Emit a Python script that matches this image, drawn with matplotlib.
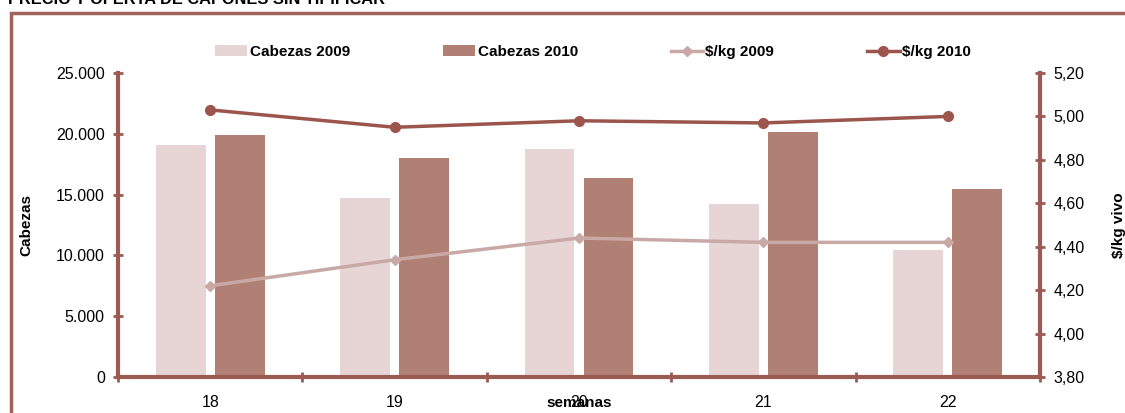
import matplotlib.pyplot as plt
import matplotlib.patches as mpatches
import numpy as np

plt.rcParams['font.family'] = ['Liberation Sans', 'DejaVu Sans']

semanas = ['18', '19', '20', '21', '22']
cabezas_2009 = [19100, 14700, 18750, 14200, 10450]
cabezas_2010 = [19900, 18050, 16400, 20150, 15450]
precio_2009 = [4.22, 4.34, 4.44, 4.42, 4.42]
precio_2010 = [5.03, 4.95, 4.98, 4.97, 5.00]

c_bar09 = '#E7D5D5'
c_bar10 = '#B08074'
c_line09 = '#C9A9A6'
c_line10 = '#9B554C'
c_axis = '#9B5B52'

fig = plt.figure(figsize=(11.25, 4.13), dpi=100)
ax = fig.add_axes([118 / 1125, 36 / 413, 922 / 1125, 304 / 413])
ax2 = ax.twinx()

x = np.arange(len(semanas))
ax.bar(x - 0.16, cabezas_2009, width=0.27, color=c_bar09, label='Cabezas 2009', zorder=2)
ax.bar(x + 0.16, cabezas_2010, width=0.27, color=c_bar10, label='Cabezas 2010', zorder=2)

ax2.plot(x, precio_2009, color=c_line09, lw=2.5, marker='D', ms=5, label='$/kg 2009')
ax2.plot(x, precio_2010, color=c_line10, lw=2.5, marker='o', ms=7, label='$/kg 2010')

ax.set_xlim(-0.5, 4.5)
ax.set_ylim(0, 25000)
ax2.set_ylim(3.8, 5.2)

ax.set_yticks(np.arange(0, 25001, 5000))
ax.set_yticklabels(['0', '5.000', '10.000', '15.000', '20.000', '25.000'])
ax2.set_yticks(np.arange(3.8, 5.21, 0.2))
ax2.set_yticklabels([f'{v:.2f}'.replace('.', ',') for v in np.arange(3.8, 5.21, 0.2)])

ax.set_xticks(x)
ax.set_xticklabels(semanas)
ax.set_xticks(np.arange(-0.5, 5, 1), minor=True)
ax.tick_params(axis='x', which='major', length=0, pad=13, labelsize=11.5)
ax.tick_params(axis='x', which='minor', length=7, width=2, direction='inout', color=c_axis)
ax.tick_params(axis='y', length=7, width=2, direction='inout', color=c_axis, labelsize=11.5, pad=6)
ax2.tick_params(axis='y', length=7, width=2, direction='inout', color=c_axis, labelsize=11.5, pad=6)

for a in (ax, ax2):
    for s in a.spines.values():
        s.set_visible(False)
ax.spines['left'].set_visible(True)
ax.spines['bottom'].set_visible(True)
ax2.spines['right'].set_visible(True)
for s in (ax.spines['left'], ax.spines['bottom'], ax2.spines['right']):
    s.set_color(c_axis)
    s.set_linewidth(3)

ax.set_ylabel('Cabezas', fontsize=11, fontweight='bold', labelpad=16)
ax2.set_ylabel('$/kg vivo', fontsize=11, fontweight='bold', labelpad=20)
ax.set_xlabel('semanas', fontsize=11, fontweight='bold', labelpad=-10)

h1, l1 = ax.get_legend_handles_labels()
h2, l2 = ax2.get_legend_handles_labels()
fig.legend(h1 + h2, l1 + l2, ncol=4, loc='center', bbox_to_anchor=(593 / 1125, 1 - 52 / 413),
           frameon=False, prop={'weight': 'bold', 'size': 11}, columnspacing=6.1,
           handlelength=2.1, handletextpad=0.15)

fig.text(8 / 1125, 1 - 4 / 413, 'PRECIO Y OFERTA DE CAPONES SIN TIPIFICAR',
         fontsize=11.8, fontweight='bold', va='baseline', ha='left')

fig.patches.append(mpatches.Rectangle((11 / 1125, -0.1), 1.2, 1 - 13 / 413 + 0.1,
                                      transform=fig.transFigure, fill=False,
                                      edgecolor='#A0645A', lw=2.5))

fig.savefig('out.png', dpi=100)
